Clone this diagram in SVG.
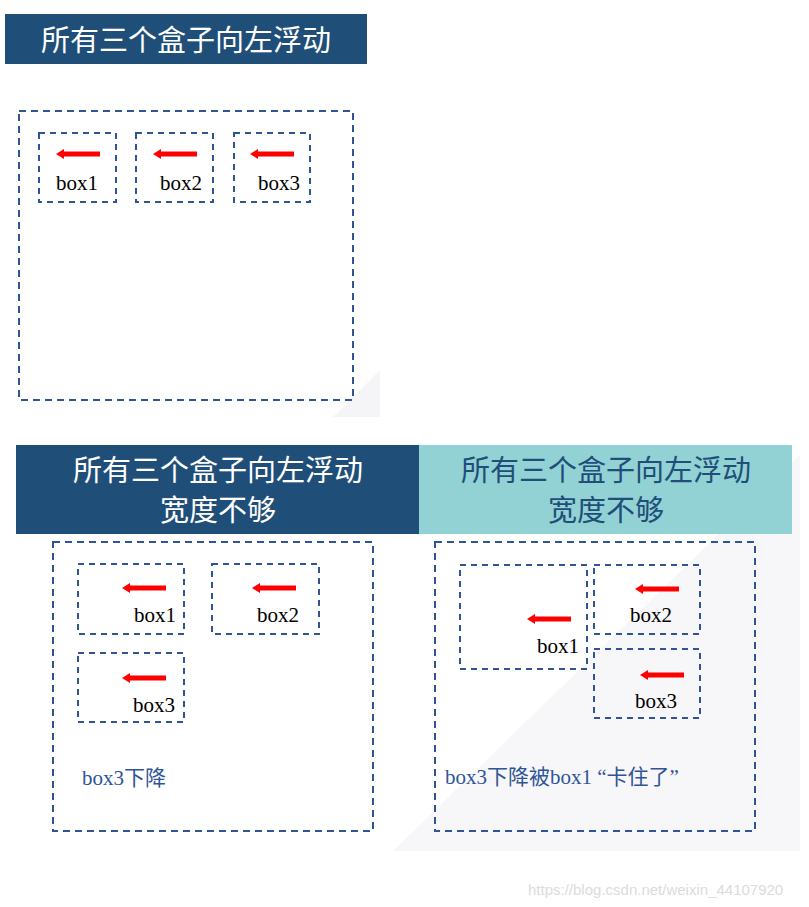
<svg xmlns="http://www.w3.org/2000/svg" width="809" height="907" viewBox="0 0 809 907">
<style>
.c{fill:none;stroke:#2f5597;stroke-width:2;stroke-dasharray:7,5}
.b{fill:none;stroke:#2f5597;stroke-width:2;stroke-dasharray:6,5}
.t{font-family:"Liberation Serif",serif;font-size:21px;fill:#000}
.h{font-family:"Noto Sans CJK SC",sans-serif;font-size:29px;text-anchor:middle}
.l{font-family:"Liberation Serif","Noto Sans CJK SC",serif;font-size:21px;fill:#2f5597}
</style>
<defs>
<g id="arr"><rect x="6" y="-2.5" width="38" height="5" fill="#f00"/><polygon points="0,0 8,-5 8,5" fill="#f00"/></g>
</defs>
<rect width="809" height="907" fill="#fff"/>
<polygon points="333,417 380,370 380,417" fill="#f5f5f7"/>
<polygon points="393,851 800,455 800,851" fill="#f7f7f9"/>
<g id="title1"><rect x="5" y="14" width="362" height="50" fill="#1f4e79"/><text class="h" x="186" y="51" fill="#fff">所有三个盒子向左浮动</text></g>
<g id="container1"><rect class="c" x="19" y="111" width="334" height="289"/></g>
<g id="t1box1"><rect class="b" x="39" y="133" width="77" height="69"/><use href="#arr" x="56" y="154"/><text class="t" x="56" y="190">box1</text></g>
<g id="t1box2"><rect class="b" x="136" y="133" width="77" height="69"/><use href="#arr" x="153" y="154"/><text class="t" x="160" y="190">box2</text></g>
<g id="t1box3"><rect class="b" x="234" y="133" width="76" height="69"/><use href="#arr" x="250" y="154"/><text class="t" x="258" y="190">box3</text></g>
<g id="title2"><rect x="16" y="445" width="403" height="89" fill="#1f4e79"/><text class="h" x="218" y="481" fill="#fff">所有三个盒子向左浮动</text><text class="h" x="218" y="521" fill="#fff">宽度不够</text></g>
<g id="title3"><rect x="419" y="445" width="373" height="89" fill="#92d2d4"/><text class="h" x="606" y="481" fill="#1f4e79">所有三个盒子向左浮动</text><text class="h" x="606" y="521" fill="#1f4e79">宽度不够</text></g>
<g id="container2"><rect class="c" x="53" y="542" width="320" height="289"/><text class="l" x="82" y="785">box3下降</text></g>
<g id="b2box1"><rect class="b" x="78" y="564" width="106" height="70"/><use href="#arr" x="122" y="588"/><text class="t" x="134" y="622">box1</text></g>
<g id="b2box2"><rect class="b" x="212" y="564" width="107" height="70"/><use href="#arr" x="252" y="588"/><text class="t" x="257" y="622">box2</text></g>
<g id="b2box3"><rect class="b" x="78" y="653" width="106" height="69"/><use href="#arr" x="122" y="678"/><text class="t" x="133" y="712">box3</text></g>
<g id="container3"><rect class="c" x="435" y="542" width="320" height="289"/><text class="l" x="445" y="784">box3下降被box1 “卡住了”</text></g>
<g id="b3box1"><rect class="b" x="460" y="565" width="127" height="104"/><use href="#arr" x="527" y="619"/><text class="t" x="537" y="653">box1</text></g>
<g id="b3box2"><rect class="b" x="594" y="565" width="106" height="69"/><use href="#arr" x="635" y="589"/><text class="t" x="630" y="622">box2</text></g>
<g id="b3box3"><rect class="b" x="594" y="649" width="106" height="69"/><use href="#arr" x="640" y="675"/><text class="t" x="635" y="708">box3</text></g>
<g id="connectors"/>
<text x="528" y="895" font-family="Liberation Sans,sans-serif" font-size="15" fill="#dcdcdc">https://blog.csdn.net/weixin_44107920</text>
</svg>
